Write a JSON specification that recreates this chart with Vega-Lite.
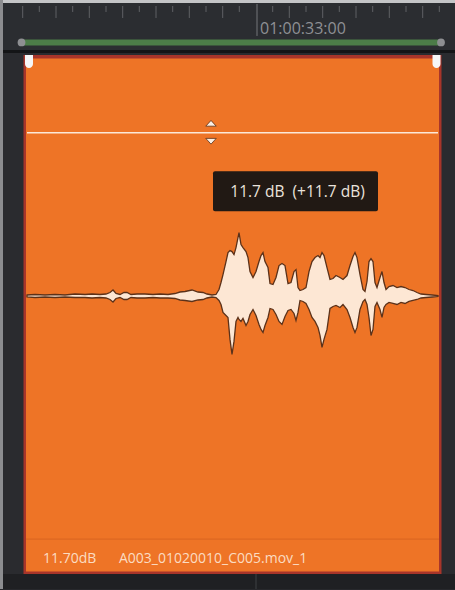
{
  "$schema": "https://vega.github.io/schema/vega-lite/v6.json",
  "autosize": {"type": "fit", "contains": "padding"},
  "width": 455,
  "height": 590,
  "padding": 0,
  "background": "#27282c",
  "config": {"view": {"stroke": null}},
  "encoding": {
    "x": {"field": "x", "type": "quantitative", "scale": {"domain": [0, 455], "nice": false, "zero": false}, "axis": null},
    "y": {"field": "y", "type": "quantitative", "scale": {"domain": [0, 590], "nice": false, "zero": false, "reverse": true}, "axis": null}
  },
  "layer": [
    {
      "data": {"values": [
        {"part": "ruler", "x": 0, "x2": 455, "y": 0, "y2": 50},
        {"part": "divider", "x": 0, "x2": 455, "y": 50, "y2": 53},
        {"part": "track", "x": 0, "x2": 455, "y": 53, "y2": 575},
        {"part": "bottom", "x": 0, "x2": 455, "y": 575, "y2": 590},
        {"part": "top", "x": 0, "x2": 455, "y": 0, "y2": 3},
        {"part": "left", "x": 0, "x2": 3, "y": 0, "y2": 590},
        {"part": "green", "x": 22, "x2": 441, "y": 39.5, "y2": 45.5},
        {"part": "border", "x": 23.5, "x2": 441.5, "y": 55, "y2": 575},
        {"part": "clip", "x": 26, "x2": 439, "y": 58.5, "y2": 572.5}
      ]},
      "mark": {"type": "rect"},
      "encoding": {
        "x2": {"field": "x2"},
        "y2": {"field": "y2"},
        "color": {"field": "part", "type": "nominal", "legend": null,
          "scale": {"domain": ["ruler", "divider", "track", "bottom", "top", "left", "green", "border", "clip"],
                    "range": ["#2b2d31", "#141517", "#2a2b2f", "#1f2023", "#c4c5c7", "#8c8d90", "#4c7c48", "#a8352a", "#ee7426"]}}
      }
    },
    {
      "data": {"values": [
        {"x": 22.7, "y": 6, "y2": 18}, {"x": 39.3, "y": 6, "y2": 12}, {"x": 56, "y": 6, "y2": 18},
        {"x": 72.7, "y": 6, "y2": 12}, {"x": 89.3, "y": 6, "y2": 18}, {"x": 106, "y": 6, "y2": 12},
        {"x": 122.7, "y": 6, "y2": 18}, {"x": 139.3, "y": 6, "y2": 12}, {"x": 156, "y": 6, "y2": 18},
        {"x": 172.7, "y": 6, "y2": 12}, {"x": 189.3, "y": 6, "y2": 18}, {"x": 206, "y": 6, "y2": 12},
        {"x": 222.7, "y": 6, "y2": 18}, {"x": 239.3, "y": 6, "y2": 12}, {"x": 272.7, "y": 6, "y2": 12},
        {"x": 289.3, "y": 6, "y2": 18}, {"x": 306, "y": 6, "y2": 12}, {"x": 322.7, "y": 6, "y2": 18},
        {"x": 339.3, "y": 6, "y2": 12}, {"x": 356, "y": 6, "y2": 18}, {"x": 372.7, "y": 6, "y2": 12},
        {"x": 389.3, "y": 6, "y2": 18}, {"x": 406, "y": 6, "y2": 12}, {"x": 422.7, "y": 6, "y2": 18},
        {"x": 439.3, "y": 6, "y2": 12}
      ]},
      "mark": {"type": "rule", "color": "#5f6165", "strokeWidth": 1},
      "encoding": {"y2": {"field": "y2"}}
    },
    {
      "data": {"values": [{"x": 257, "y": 4, "y2": 36}]},
      "mark": {"type": "rule", "color": "#74767a", "strokeWidth": 1},
      "encoding": {"y2": {"field": "y2"}}
    },
    {
      "data": {"values": [{"x": 256, "y": 575, "y2": 590}]},
      "mark": {"type": "rule", "color": "#3e4044", "strokeWidth": 1},
      "encoding": {"y2": {"field": "y2"}}
    },
    {
      "data": {"values": [{"label": "01:00:33:00", "x": 260, "y": 34}]},
      "mark": {"type": "text", "align": "left", "baseline": "alphabetic", "font": "Open Sans", "fontSize": 16, "color": "#8e9094"},
      "encoding": {"text": {"field": "label"}}
    },
    {
      "data": {"values": [{"x": 21.5, "y": 42.5}, {"x": 441, "y": 42.5}]},
      "mark": {"type": "point", "filled": true, "opacity": 1, "color": "#8e8f92", "size": 60},
      "encoding": {}
    },
    {
      "data": {"values": [{"x": 25, "x2": 33, "y": 55, "y2": 68}, {"x": 432.5, "x2": 440.5, "y": 55, "y2": 68}]},
      "mark": {"type": "rect", "color": "#f6f6f6", "cornerRadiusBottomLeft": 4, "cornerRadiusBottomRight": 4},
      "encoding": {"x2": {"field": "x2"}, "y2": {"field": "y2"}}
    },
    {
      "data": {"values": [{"x": 26, "x2": 439, "y": 540}]},
      "mark": {"type": "rule", "color": "#d8641f", "strokeWidth": 1},
      "encoding": {"x2": {"field": "x2"}}
    },
    {
      "data": {"values": [{"x": 27, "x2": 438, "y": 133}]},
      "mark": {"type": "rule", "color": "#fbe8d8", "strokeWidth": 1.5},
      "encoding": {"x2": {"field": "x2"}}
    },
    {
      "data": {"values": [{"dir": "up", "x": 211, "y": 123.5}, {"dir": "down", "x": 211, "y": 141.5}]},
      "mark": {"type": "point", "filled": true, "opacity": 1, "fill": "#fbefe4", "stroke": "#5a3018", "strokeWidth": 0.8, "size": 110},
      "encoding": {
        "shape": {"field": "dir", "type": "nominal", "legend": null,
          "scale": {"domain": ["up", "down"], "range": ["M-1,0.55L1,0.55L0,-0.55Z", "M-1,-0.55L1,-0.55L0,0.55Z"]}}
      }
    },
    {
      "data": {"values": [{"x": 213, "x2": 378, "y": 171.5, "y2": 211.5}]},
      "mark": {"type": "rect", "color": "#211914", "cornerRadius": 2},
      "encoding": {"x2": {"field": "x2"}, "y2": {"field": "y2"}}
    },
    {
      "data": {"values": [{"label": "11.7 dB\u00a0\u00a0(+11.7 dB)", "x": 297.5, "y": 197.5}]},
      "mark": {"type": "text", "align": "center", "baseline": "alphabetic", "font": "Open Sans", "fontSize": 15.5, "color": "#ebe3dc"},
      "encoding": {"text": {"field": "label"}}
    },
    {
      "data": {"values": [
        {"x": 27, "y": 295.5, "y2": 297.5}, {"x": 35, "y": 295, "y2": 298}, {"x": 45, "y": 295.5, "y2": 297.5},
        {"x": 55, "y": 295, "y2": 298}, {"x": 65, "y": 295.5, "y2": 297.5}, {"x": 75, "y": 294.5, "y2": 298},
        {"x": 85, "y": 295, "y2": 298}, {"x": 92, "y": 294.5, "y2": 298.5}, {"x": 100, "y": 295, "y2": 298},
        {"x": 106, "y": 294.5, "y2": 298.5}, {"x": 110, "y": 293, "y2": 300}, {"x": 113, "y": 290.5, "y2": 302.5},
        {"x": 116, "y": 294, "y2": 299}, {"x": 120, "y": 295, "y2": 298}, {"x": 124, "y": 293, "y2": 300},
        {"x": 127, "y": 293, "y2": 300}, {"x": 131, "y": 295, "y2": 298}, {"x": 137, "y": 294.5, "y2": 298.5},
        {"x": 145, "y": 294.5, "y2": 298.5}, {"x": 153, "y": 295, "y2": 298}, {"x": 160, "y": 294.5, "y2": 298.5},
        {"x": 168, "y": 295, "y2": 298.5}, {"x": 175, "y": 294, "y2": 299}, {"x": 180, "y": 292.5, "y2": 300.5},
        {"x": 185, "y": 292, "y2": 301}, {"x": 192, "y": 290.5, "y2": 302}, {"x": 198, "y": 292.5, "y2": 300.5},
        {"x": 203, "y": 293, "y2": 300}, {"x": 207, "y": 294.5, "y2": 298.5}, {"x": 212, "y": 295.5, "y2": 297.5},
        {"x": 216, "y": 295, "y2": 298}, {"x": 219, "y": 290, "y2": 301}, {"x": 221, "y": 283, "y2": 305},
        {"x": 223, "y": 275, "y2": 313}, {"x": 226, "y": 262, "y2": 316}, {"x": 228, "y": 253, "y2": 318},
        {"x": 230, "y": 251, "y2": 340}, {"x": 232, "y": 252, "y2": 355}, {"x": 234, "y": 255, "y2": 342},
        {"x": 236, "y": 248, "y2": 322}, {"x": 238, "y": 238, "y2": 318}, {"x": 239, "y": 233, "y2": 320},
        {"x": 241, "y": 245, "y2": 322}, {"x": 243, "y": 248, "y2": 319}, {"x": 246, "y": 252, "y2": 326},
        {"x": 248, "y": 258, "y2": 322}, {"x": 250, "y": 272, "y2": 315}, {"x": 253, "y": 278, "y2": 310},
        {"x": 256, "y": 272, "y2": 316}, {"x": 259, "y": 262, "y2": 325}, {"x": 261, "y": 256, "y2": 330},
        {"x": 263, "y": 253, "y2": 333}, {"x": 265, "y": 262, "y2": 326}, {"x": 268, "y": 268, "y2": 318},
        {"x": 270, "y": 284, "y2": 309}, {"x": 273, "y": 285, "y2": 310}, {"x": 276, "y": 278, "y2": 315},
        {"x": 279, "y": 266, "y2": 322}, {"x": 282, "y": 264, "y2": 325}, {"x": 285, "y": 266, "y2": 317},
        {"x": 288, "y": 284, "y2": 311}, {"x": 291, "y": 283, "y2": 310}, {"x": 294, "y": 272, "y2": 314},
        {"x": 296, "y": 270, "y2": 321}, {"x": 298, "y": 288, "y2": 313}, {"x": 300, "y": 291, "y2": 301},
        {"x": 303, "y": 290, "y2": 302}, {"x": 306, "y": 288, "y2": 304}, {"x": 309, "y": 272, "y2": 310},
        {"x": 312, "y": 262, "y2": 318}, {"x": 315, "y": 258, "y2": 322}, {"x": 318, "y": 256, "y2": 328},
        {"x": 320, "y": 258, "y2": 336}, {"x": 322, "y": 253, "y2": 348}, {"x": 324, "y": 256, "y2": 340},
        {"x": 327, "y": 268, "y2": 330}, {"x": 330, "y": 280, "y2": 309}, {"x": 333, "y": 279, "y2": 307},
        {"x": 336, "y": 276, "y2": 306}, {"x": 340, "y": 278, "y2": 308}, {"x": 343, "y": 280, "y2": 305},
        {"x": 347, "y": 276, "y2": 310}, {"x": 350, "y": 266, "y2": 318}, {"x": 353, "y": 257, "y2": 328},
        {"x": 355, "y": 253, "y2": 333}, {"x": 357, "y": 258, "y2": 328}, {"x": 360, "y": 275, "y2": 310},
        {"x": 363, "y": 290, "y2": 302}, {"x": 365, "y": 292, "y2": 300}, {"x": 367, "y": 282, "y2": 305},
        {"x": 369, "y": 262, "y2": 318}, {"x": 371, "y": 259, "y2": 336}, {"x": 373, "y": 262, "y2": 330},
        {"x": 375, "y": 283, "y2": 307}, {"x": 377, "y": 288, "y2": 303}, {"x": 380, "y": 278, "y2": 310},
        {"x": 382, "y": 272, "y2": 318}, {"x": 384, "y": 283, "y2": 308}, {"x": 386, "y": 290, "y2": 305},
        {"x": 389, "y": 287, "y2": 303}, {"x": 393, "y": 286, "y2": 304}, {"x": 397, "y": 288, "y2": 305},
        {"x": 401, "y": 287, "y2": 303}, {"x": 405, "y": 288, "y2": 304}, {"x": 409, "y": 290, "y2": 302},
        {"x": 413, "y": 291, "y2": 301}, {"x": 417, "y": 293, "y2": 300}, {"x": 421, "y": 294.5, "y2": 298.5},
        {"x": 426, "y": 295, "y2": 298}, {"x": 432, "y": 295.5, "y2": 297.5}, {"x": 438, "y": 296, "y2": 297}
      ]},
      "mark": {"type": "area", "fill": "#fde7d4", "fillOpacity": 1, "stroke": "#5b3119", "strokeWidth": 1.3, "interpolate": "linear"},
      "encoding": {"y2": {"field": "y2"}}
    },
    {
      "data": {"values": [{"label": "11.70dB", "x": 43, "y": 564}, {"label": "A003_01020010_C005.mov_1", "x": 119, "y": 564}]},
      "mark": {"type": "text", "align": "left", "baseline": "alphabetic", "font": "Open Sans", "fontSize": 14, "color": "#fbdcc2"},
      "encoding": {"text": {"field": "label"}}
    }
  ]
}
